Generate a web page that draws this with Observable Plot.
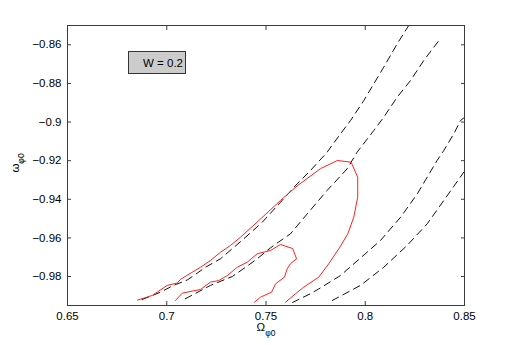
<!DOCTYPE html>
<html><head><meta charset="utf-8">
<script src="https://cdn.jsdelivr.net/npm/d3@7"></script>
<script src="https://cdn.jsdelivr.net/npm/@observablehq/plot@0.6"></script>
<style>body{margin:0;background:#fff} #chart svg{display:block}</style>
</head><body><div id="chart"></div>
<script>
const xTicks = [0.65, 0.7, 0.75, 0.8, 0.85];
const yTicks = [-0.98, -0.96, -0.94, -0.92, -0.9, -0.88, -0.86];
const legendLabel = "W = 0.2";

// red contour, outer loop
const redOuterX = [0.6853,0.6927,0.7002,0.7053,0.7069,0.7128,0.7170,0.7220,0.7271,0.7321,0.7372,0.7464,0.7573,0.7659,0.7775,0.7860,0.7929,0.7962,0.7962,0.7942,0.7912,0.7872,0.7816,0.7766,0.7690,0.7649,0.7598];
const redOuterY = [-0.9922,-0.9898,-0.9846,-0.9834,-0.9815,-0.9778,-0.9752,-0.9717,-0.9674,-0.9639,-0.9596,-0.9510,-0.9406,-0.9329,-0.9241,-0.9199,-0.9208,-0.9286,-0.9389,-0.9493,-0.9579,-0.9648,-0.9734,-0.9803,-0.9855,-0.9889,-0.9933];
// red contour, inner loop
const redInnerX = [0.7044,0.7078,0.7170,0.7220,0.7262,0.7305,0.7355,0.7405,0.7456,0.7523,0.7573,0.7634,0.7654,0.7623,0.7607,0.7593,0.7548,0.7528,0.7472,0.7442];
const redInnerY = [-0.9924,-0.9886,-0.9867,-0.9829,-0.9821,-0.9795,-0.9752,-0.9726,-0.9682,-0.9665,-0.9634,-0.9655,-0.9708,-0.9734,-0.9760,-0.9803,-0.9838,-0.9881,-0.9907,-0.9933];
// dashed contours
const dash1X = [0.6876,0.6969,0.7034,0.7103,0.7153,0.7195,0.7271,0.7330,0.7388,0.7481,0.7573,0.7657,0.7724,0.7808,0.7875,0.7926,0.7993,0.8043,0.8093,0.8161,0.8219];
const dash1Y = [-0.9919,-0.9881,-0.9846,-0.9818,-0.9783,-0.9752,-0.9708,-0.9656,-0.9605,-0.9519,-0.9415,-0.9320,-0.9251,-0.9156,-0.9061,-0.8992,-0.8888,-0.8802,-0.8716,-0.8595,-0.8500];
const dash2X = [0.7094,0.7220,0.7330,0.7397,0.7456,0.7506,0.7539,0.7623,0.7708,0.7808,0.7909,0.7959,0.8043,0.8093,0.8161,0.8228,0.8295,0.8371];
const dash2Y = [-0.9915,-0.9846,-0.9800,-0.9752,-0.9708,-0.9665,-0.9639,-0.9579,-0.9475,-0.9354,-0.9242,-0.9156,-0.9044,-0.8975,-0.8871,-0.8785,-0.8681,-0.8578];
const dash3X = [0.7634,0.7724,0.7766,0.7875,0.7976,0.8077,0.8178,0.8262,0.8362,0.8396,0.8446,0.8480,0.8500];
const dash3Y = [-0.9934,-0.9889,-0.9864,-0.9795,-0.9704,-0.9613,-0.9493,-0.9372,-0.9199,-0.9147,-0.9061,-0.8992,-0.8976];
const dash4X = [0.7834,0.7976,0.8093,0.8211,0.8312,0.8396,0.8496];
const dash4Y = [-0.9924,-0.9846,-0.9752,-0.9639,-0.9527,-0.9406,-0.9260];

const pts = (xs, ys) => xs.map((x, i) => ({x, y: ys[i]}));
const dashed = [pts(dash1X,dash1Y), pts(dash2X,dash2Y), pts(dash3X,dash3Y), pts(dash4X,dash4Y)];
const reds = [pts(redOuterX,redOuterY), pts(redInnerX,redInnerY)];
const fmt = d => String(d).replace("-", "\u2212");

const axisColor = "#3a3a3a";
const plot = Plot.plot({
  width: 512, height: 345,
  marginLeft: 67, marginRight: 48, marginTop: 25, marginBottom: 40,
  style: {fontFamily: "'Liberation Sans', Arial, sans-serif", fontSize: "11.5px", color: "#000", background: "#fff"},
  x: {domain: [0.65, 0.85], label: null},
  y: {domain: [-0.995, -0.85], label: null},
  marks: [
    ...dashed.map(d => Plot.line(d, {x: "x", y: "y", stroke: "#111", strokeWidth: 1, strokeDasharray: "7,5", clip: true})),
    ...reds.map(d => Plot.line(d, {x: "x", y: "y", stroke: "#ff2020", strokeWidth: 1, clip: true})),
    Plot.axisX(xTicks, {anchor: "bottom", tickSize: -4, tickPadding: 10, tickFormat: fmt, stroke: axisColor, fill: "#000"}),
    Plot.axisX(xTicks, {anchor: "top", tickSize: -4, tickFormat: () => "", stroke: axisColor}),
    Plot.axisY(yTicks, {anchor: "left", tickSize: -4, tickPadding: 10, tickFormat: fmt, stroke: axisColor, fill: "#000"}),
    Plot.axisY(yTicks, {anchor: "right", tickSize: -4, tickFormat: () => "", stroke: axisColor}),
    Plot.frame({stroke: axisColor, strokeWidth: 1})
  ]
});
document.getElementById("chart").appendChild(plot);

const svg = d3.select(plot);
// legend box
const g = svg.append("g");
g.append("rect").attr("x", 128.5).attr("y", 51.5).attr("width", 57).attr("height", 22)
  .attr("fill", "#cccccc").attr("stroke", "#333").attr("stroke-width", 1);
g.append("text").attr("x", 183).attr("y", 66.5).attr("text-anchor", "end")
  .attr("font-size", 11.5).attr("fill", "#000").text(legendLabel);

// axis labels with subscripts
const xl = svg.append("text").attr("x", 266).attr("y", 331).attr("text-anchor", "middle").attr("font-size", 11.5).attr("fill", "#000");
xl.append("tspan").text("Ω");
xl.append("tspan").attr("dy", 5).attr("font-size", 8.5).text("φ0");
const yl = svg.append("text").attr("transform", "translate(19,163) rotate(-90)").attr("text-anchor", "middle").attr("font-size", 11.5).attr("fill", "#000");
yl.append("tspan").text("ω");
yl.append("tspan").attr("dy", 5).attr("font-size", 8.5).text("φ0");
</script>
</body></html>
